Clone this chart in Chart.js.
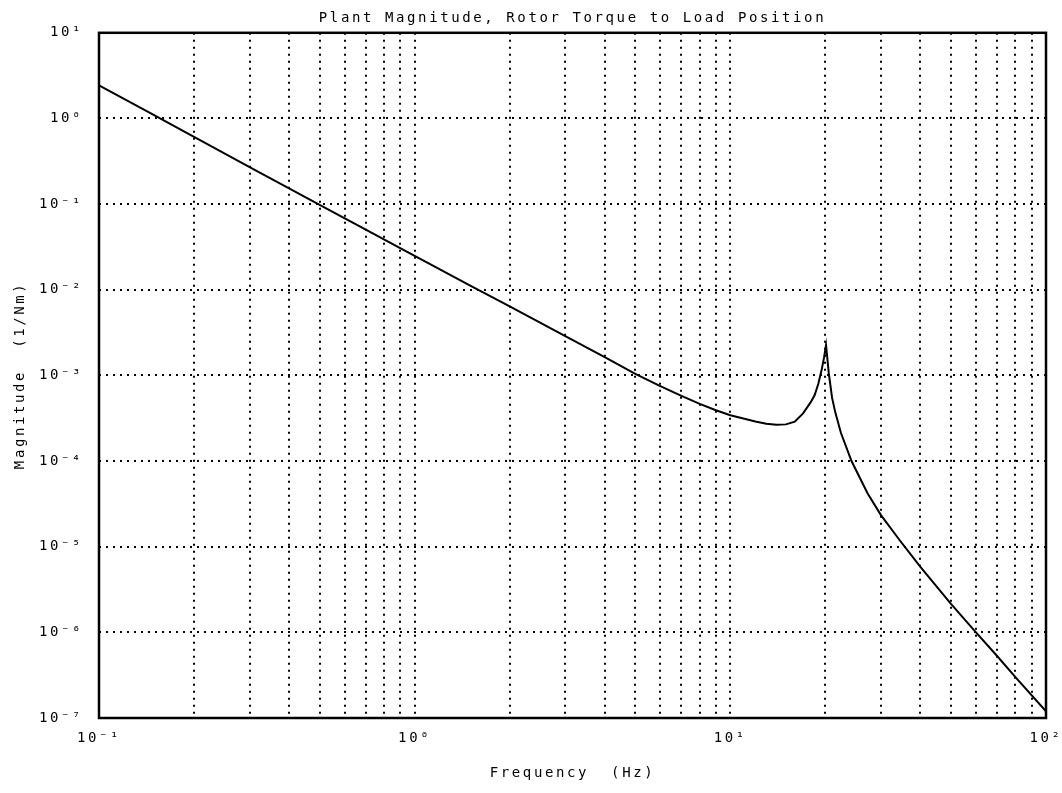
<!DOCTYPE html>
<html>
<head>
<meta charset="utf-8">
<script src="https://cdn.jsdelivr.net/npm/chart.js@4/dist/chart.umd.min.js"></script>
<style>
  html, body { margin: 0; padding: 0; background: #fff; }
  canvas { display: block; }
</style>
</head>
<body>
<canvas id="plant_chart" width="1062" height="793"></canvas>
<script>
// Values
const freqHz = [0.1, 0.15, 0.2, 0.3, 0.4, 0.5, 0.7, 1, 1.5, 2, 3, 4, 5, 6, 7, 8, 9, 10,
  12, 13, 14, 15, 16, 17, 18, 18.5, 19, 19.5, 19.8, 20.1, 20.5, 21, 21.5, 22.4, 24.2,
  27.2, 30, 34.4, 40, 50, 60, 70, 80, 100];
const magnitude = [2.44, 1.085, 0.61, 0.271, 0.153, 0.098, 0.0502, 0.0248, 0.0112, 0.0064,
  0.00288, 0.00163, 0.00104, 0.00075, 0.000576, 0.000465, 0.000392, 0.000342,
  0.00029, 0.000273, 0.000265, 0.000268, 0.000288, 0.00036, 0.00049, 0.00059, 0.0008,
  0.0012, 0.0016, 0.00226, 0.00107, 0.00055, 0.00037, 0.000214, 0.0001,
  4.2e-5, 2.34e-5, 1.19e-5, 5.8e-6, 2.15e-6, 1.0e-6, 5.3e-7, 3.0e-7, 1.2e-7];

const xDecades = [0.1, 1, 10, 100];
const xTickLabels = ["10⁻¹", "10⁰", "10¹", "10²"];
const xMinorSteps = [1, 2, 3, 4, 5, 6, 7, 8, 9];
const yDecades = [1e-7, 1e-6, 1e-5, 1e-4, 1e-3, 1e-2, 1e-1, 1, 10];
const yTickLabels = ["10⁻⁷", "10⁻⁶", "10⁻⁵", "10⁻⁴", "10⁻³", "10⁻²", "10⁻¹", "10⁰", "10¹"];

const FONT = "'DejaVu Sans Mono', 'Liberation Mono', monospace";

function decadeIndex(list, value) {
  return list.findIndex(d => Math.abs(Math.log10(value) - Math.log10(d)) < 1e-6);
}

// plotter-style wide lettering and the closed frame round the plot
const plotterLook = {
  id: "plotterLook",
  beforeUpdate(chart) { chart.ctx.letterSpacing = "2.6px"; },
  beforeDraw(chart) { chart.ctx.letterSpacing = "2.6px"; },
  afterDraw(chart) {
    const { ctx, chartArea: a } = chart;
    ctx.save();
    ctx.strokeStyle = "#000";
    ctx.lineWidth = 2.5;
    ctx.strokeRect(a.left, a.top, a.right - a.left, a.bottom - a.top);
    ctx.restore();
  }
};

const context = document.getElementById("plant_chart").getContext("2d");

new Chart(context, {
  type: "line",
  data: {
    datasets: [{
      data: freqHz.map((f, i) => ({ x: f, y: magnitude[i] })),
      borderColor: "#000",
      borderWidth: 2,
      pointRadius: 0,
      tension: 0,
      fill: false
    }]
  },
  options: {
    responsive: false,
    animation: false,
    layout: { padding: { left: 0, right: 16, top: 0, bottom: 0 } },
    plugins: {
      legend: { display: false },
      tooltip: { enabled: false },
      title: {
        display: true,
        fullSize: false,
        text: "Plant Magnitude, Rotor Torque to Load Position",
        color: "#000",
        font: { family: FONT, size: 14, weight: "normal" },
        padding: { top: 10, bottom: 6 }
      }
    },
    scales: {
      x: {
        type: "logarithmic",
        min: 0.1,
        max: 100,
        afterBuildTicks: (scale) => {
          const ticks = [];
          xDecades.slice(0, -1).forEach(d => xMinorSteps.forEach(s => ticks.push({ value: d * s })));
          ticks.push({ value: xDecades[xDecades.length - 1] });
          scale.ticks = ticks;
        },
        afterFit: (scale) => {
          scale.height = 75;
          scale.paddingLeft = 0;
          scale.paddingRight = 0;
        },
        grid: { color: "#000", lineWidth: 2, drawTicks: false },
        border: { display: false, dash: [2, 5] },
        ticks: {
          autoSkip: false,
          maxRotation: 0,
          padding: 12,
          color: "#000",
          font: { family: FONT, size: 14 },
          callback: (value) => {
            const i = decadeIndex(xDecades, value);
            return i >= 0 ? xTickLabels[i] : "";
          }
        },
        title: {
          display: true,
          text: "Frequency  (Hz)",
          color: "#000",
          font: { family: FONT, size: 14 },
          padding: { top: 0, bottom: 11 }
        }
      },
      y: {
        type: "logarithmic",
        min: 1e-7,
        max: 10,
        afterBuildTicks: (scale) => {
          scale.ticks = yDecades.map(v => ({ value: v }));
        },
        afterFit: (scale) => { scale.width = 99; },
        grid: { color: "#000", lineWidth: 2, drawTicks: false },
        border: { display: false, dash: [2, 5] },
        ticks: {
          padding: 16,
          color: "#000",
          font: { family: FONT, size: 14 },
          callback: (value) => {
            const i = decadeIndex(yDecades, value);
            return i >= 0 ? yTickLabels[i] : "";
          }
        },
        title: {
          display: true,
          text: "Magnitude  (1/Nm)",
          color: "#000",
          font: { family: FONT, size: 14 },
          padding: { top: 12, bottom: 0 }
        }
      }
    }
  },
  plugins: [plotterLook]
});
</script>
</body>
</html>
